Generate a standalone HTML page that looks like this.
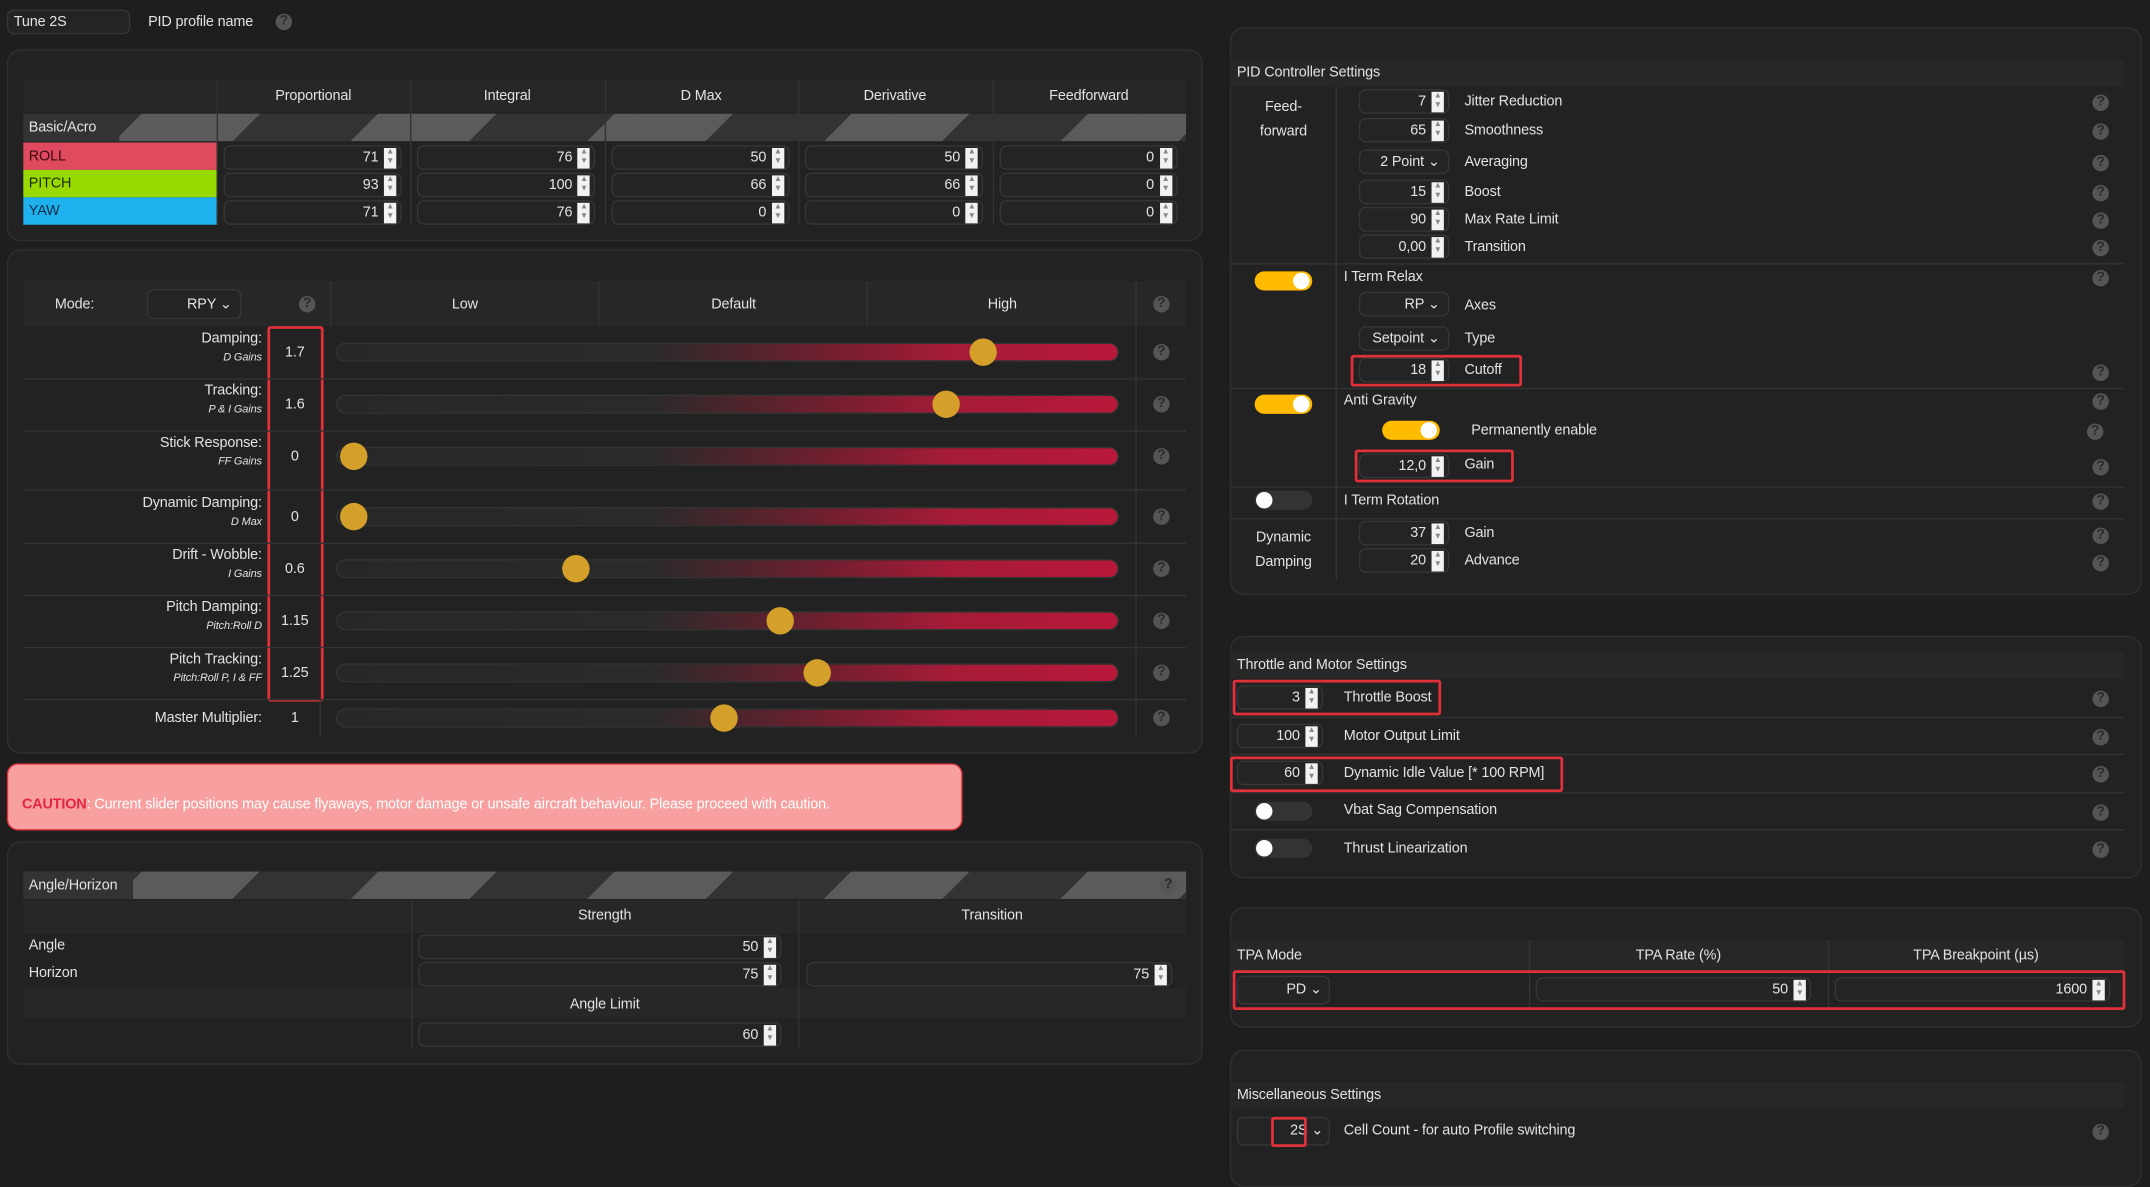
<!DOCTYPE html>
<html><head><meta charset="utf-8"><style>
html,body{margin:0;padding:0;background:#1e1e1e;width:2150px;height:1158px;overflow:hidden}
#w{position:absolute;left:0;top:0;width:1568px;height:845px;transform:scale(1.3712,1.3704);transform-origin:0 0;font-family:"Liberation Sans",sans-serif;font-size:10.5px;letter-spacing:-0.1px;color:#e2e2e2}
.a{position:absolute;box-sizing:border-box}
.panel{background:#222;border:1px solid #303030;border-radius:10px}
.hdr{background:#272727}
.inp{background:#242424;border:1px solid #363636;border-radius:5px;text-align:right;line-height:16px;height:18px}
.spin{position:absolute;right:3px;top:1px;width:9px;height:15px;background:#f2f2f2;font-size:6px;line-height:7px;color:#888;text-align:center}
.help{width:12px;height:12px;border-radius:6px;background:#555;color:#2a2a2a;font-size:10px;font-weight:bold;text-align:center;line-height:12px}
.stripe{background:repeating-linear-gradient(135deg,#333 0 61px,#5b5b5b 61px 122px)}
.tog{width:42px;height:14px;border-radius:7px;background:#ffbb00}
.tog::after{content:"";position:absolute;right:2px;top:1px;width:12px;height:12px;border-radius:6px;background:#fff}
.tog.off{background:#333}
.tog.off::after{left:1px;right:auto}
.red{border:2px solid #e0303a;border-radius:2px}
.sep{height:1px;background:#333}
.c{text-align:center}
</style></head><body>
<div id="w">
<div class="a inp" style="left:5px;top:7px;width:90px;text-align:left;padding-left:4px">Tune 2S</div>
<div class="a" style="left:108px;top:10px">PID profile name</div>
<div class="a help" style="left:201px;top:10px">?</div>

<div class="a panel" style="left:5px;top:36px;width:872px;height:140px"></div>
<div class="a hdr" style="left:17px;top:58px;width:848px;height:24px"></div>
<div class="a stripe" style="left:17px;top:83px;width:848px;height:20px"></div>
<div class="a" style="left:17px;top:83px;width:70px;height:20px;background:#333;padding:4px 0 0 4px">Basic/Acro</div>
<div class="a" style="left:17px;top:104px;width:141px;height:20px;background:#e04a5f;color:#3a0a10;padding:4px 0 0 4px">ROLL</div>
<div class="a" style="left:17px;top:124px;width:141px;height:20px;background:#98d900;color:#1d2a00;padding:4px 0 0 4px">PITCH</div>
<div class="a" style="left:17px;top:144px;width:141px;height:20px;background:#1fb1ee;color:#06314a;padding:4px 0 0 4px">YAW</div>

<div class="a panel" style="left:5px;top:182px;width:872px;height:368px"></div>
<div class="a hdr" style="left:17px;top:205px;width:848px;height:33px"></div>
<div class="a" style="left:40px;top:216px">Mode:</div>
<div class="a inp" style="left:107px;top:211px;width:69px;height:22px;line-height:20px;padding-right:6px">RPY ⌄</div>
<div class="a help" style="left:218px;top:216px">?</div>
<div class="a" style="left:241px;top:205px;width:1px;height:33px;background:#333"></div>
<div class="a" style="left:436px;top:205px;width:1px;height:33px;background:#333"></div>
<div class="a" style="left:632px;top:205px;width:1px;height:33px;background:#333"></div>
<div class="a" style="left:828px;top:205px;width:1px;height:33px;background:#333"></div>
<div class="a c" style="left:241px;top:216px;width:196px">Low</div>
<div class="a c" style="left:437px;top:216px;width:196px">Default</div>
<div class="a c" style="left:633px;top:216px;width:196px">High</div>
<div class="a help" style="left:841px;top:216px">?</div>
<div class="a red" style="left:195px;top:238px;width:41px;height:274px"></div>

<div class="a" style="left:5px;top:557px;width:697px;height:49px;background:#f8a0a0;border:1px solid #e0303a;border-radius:8px;padding:23px 0 0 10px;color:#fff"><b style="color:#e4253f">CAUTION</b>: Current slider positions may cause flyaways, motor damage or unsafe aircraft behaviour. Please proceed with caution.</div>

<div class="a panel" style="left:5px;top:614px;width:872px;height:163px"></div>
<div class="a stripe" style="left:17px;top:636px;width:848px;height:20px"></div>
<div class="a" style="left:17px;top:636px;width:80px;height:20px;background:#333;padding:4px 0 0 4px">Angle/Horizon</div>
<div class="a help" style="left:846px;top:640px">?</div>
<div class="a hdr" style="left:17px;top:657px;width:848px;height:24px"></div>
<div class="a hdr" style="left:17px;top:721px;width:848px;height:22px"></div>
<div class="a" style="left:300px;top:657px;width:1px;height:108px;background:#333"></div>
<div class="a" style="left:582px;top:657px;width:1px;height:108px;background:#333"></div>
<div class="a c" style="left:300px;top:662px;width:282px">Strength</div>
<div class="a c" style="left:582px;top:662px;width:283px">Transition</div>
<div class="a" style="left:21px;top:684px">Angle</div>
<div class="a" style="left:21px;top:704px">Horizon</div>
<div class="a c" style="left:300px;top:727px;width:282px">Angle Limit</div>

<div class="a panel" style="left:897px;top:20px;width:665px;height:414px"></div>
<div class="a hdr" style="left:897px;top:44px;width:652px;height:19px;padding:3px 0 0 5px">PID Controller Settings</div>
<div class="a" style="left:974px;top:63px;width:1px;height:360px;background:#333"></div>
<div class="a c" style="left:900px;top:69px;width:72px;line-height:18px">Feed-<br>forward</div>
<div class="a sep" style="left:897px;top:192px;width:652px"></div>
<div class="a sep" style="left:897px;top:283px;width:652px"></div>
<div class="a sep" style="left:897px;top:355px;width:652px"></div>
<div class="a sep" style="left:897px;top:378px;width:652px"></div>
<div class="a tog" style="left:915px;top:198px"></div>
<div class="a" style="left:980px;top:196px">I Term Relax</div>
<div class="a tog" style="left:915px;top:288px"></div>
<div class="a" style="left:980px;top:286px">Anti Gravity</div>
<div class="a tog" style="left:1008px;top:307px"></div>
<div class="a" style="left:1073px;top:308px">Permanently enable</div>
<div class="a tog off" style="left:915px;top:358px"></div>
<div class="a" style="left:980px;top:359px">I Term Rotation</div>
<div class="a c" style="left:900px;top:383px;width:72px;line-height:18px">Dynamic<br>Damping</div>
<div class="a red" style="left:985px;top:259px;width:125px;height:23px"></div>
<div class="a red" style="left:988px;top:328px;width:116px;height:24px"></div>

<div class="a panel" style="left:897px;top:464px;width:665px;height:177px"></div>
<div class="a hdr" style="left:897px;top:476px;width:652px;height:19px;padding:3px 0 0 5px">Throttle and Motor Settings</div>
<div class="a sep" style="left:897px;top:523px;width:652px"></div>
<div class="a sep" style="left:897px;top:550px;width:652px"></div>
<div class="a sep" style="left:897px;top:578px;width:652px"></div>
<div class="a sep" style="left:897px;top:605px;width:652px"></div>
<div class="a red" style="left:899px;top:496px;width:152px;height:26px"></div>
<div class="a red" style="left:897px;top:552px;width:243px;height:26px"></div>
<div class="a tog off" style="left:915px;top:585px"></div>
<div class="a" style="left:980px;top:585px">Vbat Sag Compensation</div>
<div class="a tog off" style="left:915px;top:612px"></div>
<div class="a" style="left:980px;top:613px">Thrust Linearization</div>

<div class="a panel" style="left:897px;top:662px;width:665px;height:88px"></div>
<div class="a hdr" style="left:897px;top:686px;width:652px;height:22px"></div>
<div class="a" style="left:1115px;top:686px;width:1px;height:50px;background:#333"></div>
<div class="a" style="left:1333px;top:686px;width:1px;height:50px;background:#333"></div>
<div class="a" style="left:902px;top:691px">TPA Mode</div>
<div class="a c" style="left:1115px;top:691px;width:218px">TPA Rate (%)</div>
<div class="a c" style="left:1333px;top:691px;width:216px">TPA Breakpoint (µs)</div>
<div class="a inp" style="left:902px;top:712px;width:68px;height:21px;line-height:19px;padding-right:5px">PD ⌄</div>
<div class="a red" style="left:899px;top:708px;width:651px;height:29px"></div>

<div class="a panel" style="left:897px;top:766px;width:665px;height:100px"></div>
<div class="a hdr" style="left:897px;top:790px;width:652px;height:19px;padding:3px 0 0 5px">Miscellaneous Settings</div>
<div class="a inp" style="left:902px;top:815px;width:68px;height:21px;line-height:19px;padding-right:4px">2S ⌄</div>
<div class="a red" style="left:927px;top:815px;width:26px;height:22px"></div>
<div class="a" style="left:980px;top:819px">Cell Count - for auto Profile switching</div>
</div>
<script>
var W=document.getElementById('w');
function box(x,y,w,txt,name,spin){
  var el=document.createElement('div');
  el.className='a inp';
  el.style.cssText='left:'+x+'px;top:'+y+'px;width:'+w+'px;padding-right:'+(spin?16:6)+'px';
  el.textContent=txt;
  
  
  if(spin){var s=document.createElement('div');s.className='spin';s.innerHTML='▲<br>▼';el.appendChild(s);}
  W.appendChild(el);return el;
}
function txt(x,y,t,name){
  var el=document.createElement('div');
  el.className='a';el.style.left=x+'px';el.style.top=y+'px';el.textContent=t;
  
  
  W.appendChild(el);
}
function help(x,y,name){
  var el=document.createElement('div');
  el.className='a help';el.style.left=x+'px';el.style.top=y+'px';el.textContent='?';
  
  
  W.appendChild(el);
}
var pidCols=['Proportional','Integral','D Max','Derivative','Feedforward'];
var rollVals=[71,76,50,50,0];
var pitchVals=[93,100,66,66,0];
var yawVals=[71,76,0,0,0];
var rows=[rollVals,pitchVals,yawVals];
pidCols.forEach(function(c,i){
  var x=158+i*141.4;
  var h=document.createElement('div');h.className='a c';h.style.cssText='left:'+x+'px;top:64px;width:141px';h.textContent=c;
  
  
  W.appendChild(h);
  var d=document.createElement('div');d.className='a';d.style.cssText='left:'+x+'px;top:58px;width:1px;height:106px;background:#333';W.appendChild(d);
  rows.forEach(function(r,j){box(x+5,106+j*20,130,r[i],'pid-value-input',true);});
});
var sliderLabels=['Damping:','Tracking:','Stick Response:','Dynamic Damping:','Drift - Wobble:','Pitch Damping:','Pitch Tracking:','Master Multiplier:'];
var sliderSubs=['D Gains','P & I Gains','FF Gains','D Max','I Gains','Pitch:Roll D','Pitch:Roll P, I & FF',''];
var sliderVals=[1.7,1.6,0,0,0.6,1.15,1.25,1];
var rowY=[257,295,333,377,415,453,491,524];
function xScale(v){return 258+v*270;}
sliderVals.forEach(function(v,i){
  var y=rowY[i];
  if(i<7){var s=document.createElement('div');s.className='a';s.style.cssText='left:17px;top:'+(y+(i==2?24:19))+'px;width:848px;height:1px;background:#333';W.appendChild(s);}
  var l=document.createElement('div');l.className='a';l.style.cssText='left:17px;top:'+(i==7?y-6:y-16)+'px;width:174px;text-align:right';
  l.innerHTML=sliderLabels[i]+(sliderSubs[i]?'<br><i style="font-size:8px;line-height:16px">'+sliderSubs[i]+'</i>':'');
  
  
  W.appendChild(l);
  var t=document.createElement('div');t.className='a c';t.style.cssText='left:197px;top:'+(y-6)+'px;width:36px';t.textContent=v;
  
  
  W.appendChild(t);
  var tr=document.createElement('div');tr.className='a';tr.style.cssText='left:245px;top:'+(y-7)+'px;width:571px;height:14px;border-radius:7px;border:1px solid #333;background:linear-gradient(90deg,#272727 0%,#2a2a2a 40%,#6e1f2e 62%,#a41b38 78%,#b8183a 100%)';
  
  
  W.appendChild(tr);
  var th=document.createElement('div');th.className='a';th.style.cssText='left:'+(xScale(v)-10)+'px;top:'+(y-10)+'px;width:20px;height:20px;border-radius:10px;background:#d4a02a';
  
  
  W.appendChild(th);
  help(841,y-6,'slider-help');
});
var s2=document.createElement('div');s2.className='a';s2.style.cssText='left:17px;top:510px;width:848px;height:1px;background:#333';W.appendChild(s2);
var s3=document.createElement('div');s3.className='a';s3.style.cssText='left:233px;top:510px;width:1px;height:28px;background:#333';W.appendChild(s3);
var s4=document.createElement('div');s4.className='a';s4.style.cssText='left:828px;top:238px;width:1px;height:300px;background:#333';W.appendChild(s4);
box(305,682,265,50,'angle-strength-input',true);
box(305,702,265,75,'horizon-strength-input',true);
box(588,702,267,75,'horizon-transition-input',true);
box(305,746,265,60,'angle-limit-input',true);
var ffLabels=['Jitter Reduction','Smoothness','Averaging','Boost','Max Rate Limit','Transition'];
var ffVals=['7','65','2 Point ⌄','15','90','0,00'];
var ffY=[74,95,118,140,160,180];
ffLabels.forEach(function(n,i){
  box(991,ffY[i]-9,66,ffVals[i],'feedforward-input',i!=2);
  txt(1068,ffY[i]-6,n,'feedforward-label');
  help(1526,ffY[i]-5,'feedforward-help');
});
help(1526,197,'iterm-relax-help');
box(991,213,66,'RP ⌄','iterm-axes-select',false);txt(1068,217,'Axes','axes-label');
box(991,238,66,'Setpoint ⌄','iterm-type-select',false);txt(1068,241,'Type','type-label');
box(991,261,66,'18','iterm-cutoff-input',true);txt(1068,264,'Cutoff','cutoff-label');help(1526,266,'cutoff-help');
help(1526,287,'anti-gravity-help');help(1522,309,'perm-help');
box(991,331,66,'12,0','anti-gravity-gain-input',true);txt(1068,333,'Gain','gain-label');help(1526,335,'gain-help');
help(1526,360,'rotation-help');
box(991,380,66,'37','dd-gain-input',true);txt(1068,383,'Gain','dd-gain-label');help(1526,385,'dd-gain-help');
box(991,400,66,'20','dd-advance-input',true);txt(1068,403,'Advance','dd-advance-label');help(1526,405,'dd-advance-help');
var thrLabels=['Throttle Boost','Motor Output Limit','Dynamic Idle Value [* 100 RPM]'];
var thrVals=[3,100,60];
var thrY=[509,537,564];
thrLabels.forEach(function(n,i){
  box(902,thrY[i]-9,63,thrVals[i],'throttle-input',true);
  txt(980,thrY[i]-6,n,'throttle-label');
  help(1526,thrY[i]-5,'throttle-help');
});
help(1526,587,'vbat-help');help(1526,614,'thrust-help');
box(1120,713,201,50,'tpa-rate-input',true);
box(1338,713,201,1600,'tpa-breakpoint-input',true);
help(1526,820,'cell-count-help');
</script>
</body></html>
